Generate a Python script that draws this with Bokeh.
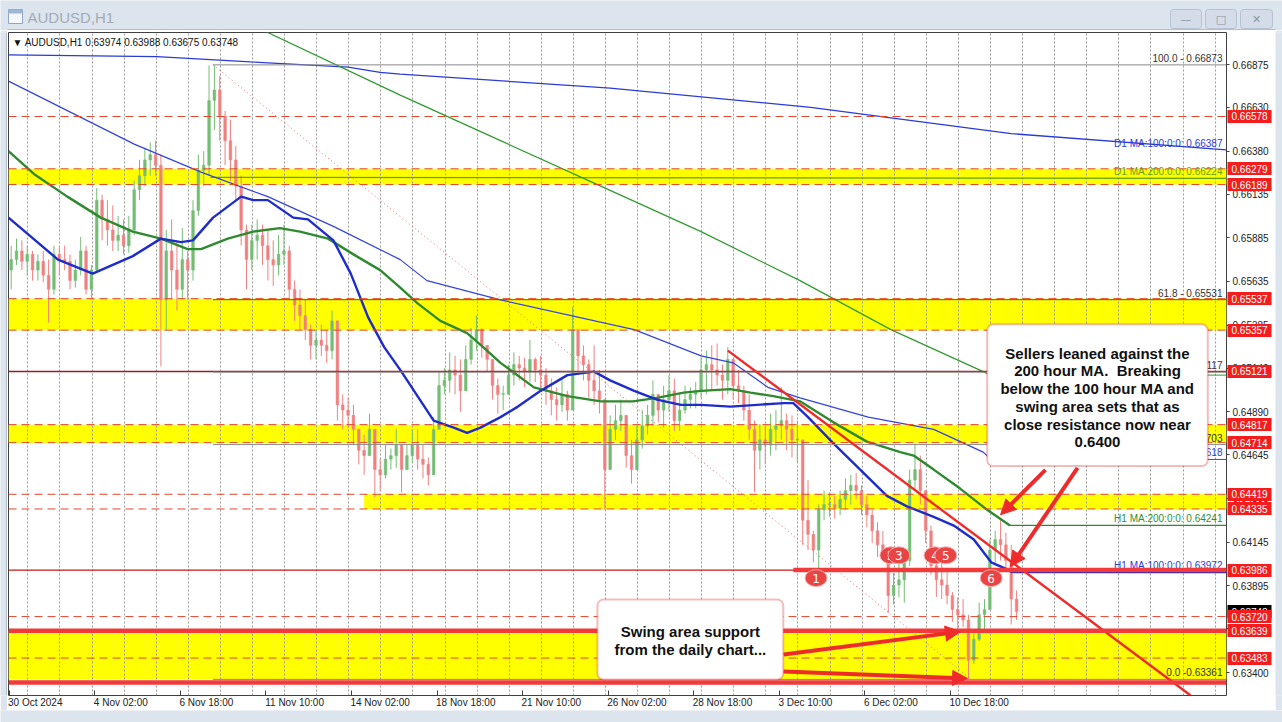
from bokeh.plotting import figure
from bokeh.layouts import column, row
from bokeh.models import (Range1d, FixedTicker, PrintfTickFormatter, Label, LinearAxis,
                          BoxAnnotation, Arrow, NormalHead, ColumnDataSource)
from bokeh.core.properties import value
from bokeh.embed import file_html
from bokeh.resources import INLINE

# ---------------- data ----------------
symbol = "AUDUSD,H1"
ohlc_header = [0.63974, 0.63988, 0.63675, 0.63748]

hours_per_candle = 4          # each drawn candle aggregates 4 hourly bars
first_open = 0.6570
candle_high = [
    0.6584, 0.6588, 0.6587, 0.6584, 0.6581, 0.6579, 0.6581, 0.6576, 0.6584, 0.6583,
    0.6584, 0.6579, 0.6576, 0.6589, 0.6584, 0.6573, 0.6617, 0.6613, 0.6610, 0.6607,
    0.6601, 0.6599, 0.6601, 0.6621, 0.6633, 0.6640, 0.6643, 0.6644, 0.6636, 0.6593,
    0.6599, 0.6587, 0.6594, 0.6581, 0.6610, 0.6636, 0.6638, 0.6687, 0.6687, 0.6681,
    0.6661, 0.6656, 0.6641, 0.6624, 0.6596, 0.6596, 0.6599, 0.6596, 0.6593, 0.6587,
    0.6590, 0.6596, 0.6584, 0.6564, 0.6559, 0.6553, 0.6539, 0.6536, 0.6539, 0.6536,
    0.6547, 0.6541, 0.6499, 0.6497, 0.6493, 0.6479, 0.6476, 0.6488, 0.6479, 0.6462,
    0.6470, 0.6468, 0.6479, 0.6467, 0.6470, 0.6479, 0.6479, 0.6470, 0.6463, 0.6486,
    0.6512, 0.6514, 0.6523, 0.6521, 0.6519, 0.6527, 0.6537, 0.6544, 0.6537, 0.6527,
    0.6516, 0.6508, 0.6504, 0.6516, 0.6523, 0.6521, 0.6520, 0.6530, 0.6520, 0.6521,
    0.6514, 0.6508, 0.6503, 0.6508, 0.6501, 0.6549, 0.6536, 0.6527, 0.6519, 0.6527,
    0.6513, 0.6496, 0.6487, 0.6493, 0.6496, 0.6486, 0.6473, 0.6481, 0.6490, 0.6493,
    0.6507, 0.6499, 0.6504, 0.6510, 0.6508, 0.6500, 0.6504, 0.6503, 0.6506, 0.6520,
    0.6524, 0.6527, 0.6528, 0.6516, 0.6526, 0.6516, 0.6513, 0.6504, 0.6499, 0.6484,
    0.6482, 0.6481, 0.6488, 0.6490, 0.6503, 0.6488, 0.6487, 0.6484, 0.6473, 0.6450,
    0.6421, 0.6436, 0.6444, 0.6443, 0.6441, 0.6444, 0.6451, 0.6453, 0.6454, 0.6447,
    0.6441, 0.6433, 0.6426, 0.6421, 0.6410, 0.6397, 0.6403, 0.6407, 0.6456, 0.6471,
    0.6464, 0.6441, 0.6424, 0.6408, 0.6404, 0.6399, 0.6386, 0.6383, 0.6382, 0.6373,
    0.6364, 0.6380, 0.6382, 0.6416, 0.6421, 0.6427, 0.6420, 0.6413, 0.6387,
]
candle_low = [
    0.6559, 0.6573, 0.6570, 0.6567, 0.6564, 0.6564, 0.6563, 0.6540, 0.6556, 0.6567,
    0.6570, 0.6559, 0.6560, 0.6567, 0.6556, 0.6554, 0.6569, 0.6587, 0.6584, 0.6581,
    0.6581, 0.6579, 0.6580, 0.6590, 0.6610, 0.6618, 0.6624, 0.6624, 0.6515, 0.6536,
    0.6553, 0.6547, 0.6553, 0.6553, 0.6564, 0.6601, 0.6618, 0.6624, 0.6650, 0.6644,
    0.6630, 0.6621, 0.6610, 0.6584, 0.6559, 0.6570, 0.6576, 0.6573, 0.6564, 0.6561,
    0.6567, 0.6573, 0.6553, 0.6541, 0.6536, 0.6530, 0.6519, 0.6519, 0.6521, 0.6517,
    0.6519, 0.6484, 0.6479, 0.6480, 0.6470, 0.6459, 0.6453, 0.6464, 0.6440, 0.6444,
    0.6451, 0.6456, 0.6457, 0.6443, 0.6456, 0.6460, 0.6456, 0.6451, 0.6447, 0.6456,
    0.6483, 0.6499, 0.6500, 0.6499, 0.6489, 0.6501, 0.6516, 0.6524, 0.6520, 0.6512,
    0.6496, 0.6488, 0.6490, 0.6499, 0.6504, 0.6507, 0.6503, 0.6506, 0.6506, 0.6501,
    0.6493, 0.6487, 0.6484, 0.6489, 0.6484, 0.6501, 0.6510, 0.6507, 0.6497, 0.6493,
    0.6488, 0.6433, 0.6467, 0.6473, 0.6478, 0.6457, 0.6448, 0.6457, 0.6468, 0.6476,
    0.6481, 0.6483, 0.6480, 0.6489, 0.6478, 0.6478, 0.6488, 0.6491, 0.6491, 0.6497,
    0.6499, 0.6501, 0.6504, 0.6496, 0.6499, 0.6496, 0.6494, 0.6484, 0.6473, 0.6443,
    0.6456, 0.6459, 0.6464, 0.6467, 0.6473, 0.6467, 0.6463, 0.6460, 0.6413, 0.6410,
    0.6403, 0.6399, 0.6427, 0.6429, 0.6428, 0.6430, 0.6433, 0.6436, 0.6439, 0.6430,
    0.6423, 0.6414, 0.6406, 0.6404, 0.6374, 0.6379, 0.6383, 0.6380, 0.6401, 0.6444,
    0.6436, 0.6414, 0.6396, 0.6383, 0.6382, 0.6379, 0.6369, 0.6365, 0.6366, 0.6336,
    0.6345, 0.6358, 0.6365, 0.6379, 0.6401, 0.6404, 0.6399, 0.63675, 0.6370,
]
candle_close = [
    0.6576, 0.6581, 0.6575, 0.6579, 0.6570, 0.6575, 0.6567, 0.6559, 0.6579, 0.6576,
    0.6575, 0.6564, 0.6570, 0.6581, 0.6559, 0.6570, 0.6610, 0.6599, 0.6593, 0.6587,
    0.6590, 0.6584, 0.6593, 0.6616, 0.6624, 0.6633, 0.6636, 0.6630, 0.6553, 0.6581,
    0.6570, 0.6559, 0.6576, 0.6570, 0.6604, 0.6627, 0.6630, 0.6667, 0.6673, 0.6658,
    0.6644, 0.6633, 0.6618, 0.6593, 0.6576, 0.6587, 0.6590, 0.6584, 0.6576, 0.6573,
    0.6579, 0.6581, 0.6559, 0.6550, 0.6544, 0.6536, 0.6527, 0.6530, 0.6527, 0.6524,
    0.6541, 0.6493, 0.6490, 0.6487, 0.6479, 0.6467, 0.6464, 0.6479, 0.6456, 0.6453,
    0.6462, 0.6464, 0.6470, 0.6456, 0.6464, 0.6470, 0.6462, 0.6459, 0.6453, 0.6479,
    0.6504, 0.6507, 0.6513, 0.6510, 0.6501, 0.6519, 0.6530, 0.6536, 0.6527, 0.6519,
    0.6504, 0.6499, 0.6499, 0.6510, 0.6516, 0.6514, 0.6512, 0.6519, 0.6513, 0.6510,
    0.6501, 0.6496, 0.6493, 0.6499, 0.6490, 0.6536, 0.6521, 0.6516, 0.6507, 0.6501,
    0.6496, 0.6456, 0.6479, 0.6484, 0.6487, 0.6464, 0.6456, 0.6473, 0.6481, 0.6487,
    0.6499, 0.6490, 0.6496, 0.6501, 0.6484, 0.6490, 0.6496, 0.6499, 0.6501, 0.6513,
    0.6516, 0.6513, 0.6510, 0.6507, 0.6519, 0.6504, 0.6501, 0.6490, 0.6479, 0.6467,
    0.6473, 0.6470, 0.6479, 0.6481, 0.6484, 0.6479, 0.6473, 0.6473, 0.6427, 0.6419,
    0.6410, 0.6433, 0.6436, 0.6436, 0.6434, 0.6439, 0.6444, 0.6447, 0.6444, 0.6436,
    0.6430, 0.6421, 0.6413, 0.6407, 0.6384, 0.6390, 0.6393, 0.6404, 0.6450, 0.6456,
    0.6444, 0.6421, 0.6401, 0.6393, 0.6390, 0.6384, 0.6376, 0.6373, 0.6370, 0.6347,
    0.6359, 0.6373, 0.6376, 0.6410, 0.6416, 0.6413, 0.6404, 0.6382, 0.63748,
]

# time axis (hourly bar index)
time_labels = ["30 Oct 2024", "4 Nov 02:00", "6 Nov 18:00", "11 Nov 10:00", "14 Nov 02:00",
               "18 Nov 18:00", "21 Nov 10:00", "26 Nov 02:00", "28 Nov 18:00", "3 Dec 10:00",
               "6 Dec 02:00", "10 Dec 18:00"]
bars_per_label = 64
first_midnight_bar = 14
bars_per_day = 24
visible_bars = 911

price_ticks = [0.63400, 0.63650, 0.63895, 0.64145, 0.64395, 0.64645, 0.64890, 0.65140,
               0.65385, 0.65635, 0.65885, 0.66135, 0.66380, 0.66630, 0.66875]

# moving averages (bar index, price)
h1_ma100_bar = [0, 37, 63, 93, 114, 129, 138, 153, 174, 183, 194, 213, 224, 243, 256, 269,
                281, 293, 318, 333, 343, 353, 368, 381, 398, 418, 438, 450, 468, 485, 503,
                518, 540, 560, 580, 587, 598, 617, 637, 657, 672, 692, 707, 722, 735, 747, 751]
h1_ma100_price = [0.6600, 0.6576, 0.6568, 0.6578, 0.6588, 0.6586, 0.6587, 0.6600, 0.6612,
                  0.6610, 0.6610, 0.6600, 0.6599, 0.6587, 0.6568, 0.6543, 0.6526, 0.6513,
                  0.6484, 0.6480, 0.6477, 0.6480, 0.6486, 0.6492, 0.6501, 0.6510, 0.6512,
                  0.6507, 0.6501, 0.6496, 0.6493, 0.6493, 0.6492, 0.6493, 0.6494, 0.6494,
                  0.6486, 0.6471, 0.6456, 0.6441, 0.6435, 0.6429, 0.6424, 0.6416, 0.6403,
                  0.6399, 0.63972]
h1_ma200_bar = [0, 19, 44, 69, 93, 114, 134, 144, 164, 183, 203, 218, 239, 258, 278, 293,
                306, 323, 343, 355, 368, 393, 418, 443, 467, 485, 505, 518, 540, 555, 572,
                592, 617, 642, 667, 677, 692, 712, 732, 749]
h1_ma200_price = [0.6638, 0.6625, 0.6612, 0.6600, 0.6592, 0.6588, 0.6582, 0.6582, 0.6588,
                  0.6592, 0.6594, 0.6592, 0.6588, 0.6579, 0.6570, 0.6560, 0.6551, 0.6541,
                  0.6534, 0.6526, 0.6517, 0.6503, 0.6498, 0.6495, 0.6495, 0.6497, 0.6500,
                  0.6501, 0.6502, 0.6500, 0.6498, 0.6495, 0.6483, 0.6472, 0.6466, 0.6464,
                  0.6456, 0.6445, 0.6433, 0.64241]
h4_ma_blue_bar = [0, 94, 144, 194, 243, 293, 313, 368, 468, 518, 542, 568, 592, 643, 692, 729, 735]
h4_ma_blue_price = [0.6678, 0.6642, 0.6626, 0.6612, 0.6595, 0.6576, 0.6564, 0.6553, 0.6536,
                    0.6521, 0.6517, 0.6503, 0.6497, 0.6486, 0.6479, 0.6466, 0.64618]
h4_ma_green_bar = [174, 293, 368, 443, 518, 592, 660, 729, 735]
h4_ma_green_price = [0.6713, 0.6670, 0.6644, 0.6618, 0.6592, 0.6564, 0.6536, 0.6512, 0.6510]
d1_ma100_bar = [0, 111, 181, 254, 278, 293, 450, 600, 750, 911]
d1_ma100_price = [0.6693, 0.6692, 0.6689, 0.6686, 0.6683, 0.6682, 0.6674, 0.6663, 0.6648, 0.66387]
d1_ma200_bar = [151, 911]
d1_ma200_price = [0.6623, 0.66224]

ma_tag_text = ["D1 MA:100:0:0: 0.66387", "D1 MA:200:0:0: 0.66224",
               "H1 MA:200:0:0: 0.64241", "H1 MA:100:0:0: 0.63972", "H4 MA:100:0:0: 0.64618"]
ma_tag_price = [0.66387, 0.66224, 0.64241, 0.63972, 0.64618]
ma_tag_color = ["#2b3bd6", "#6aa010", "#2f8f2f", "#2b3bd6", "#2b3bd6"]

# support / resistance zones and levels
zone_top = [0.66279, 0.65537, 0.64817, 0.64419, 0.63639]
zone_bottom = [0.66189, 0.65357, 0.64714, 0.64335, 0.63361]
zone_start_bar = [0, 0, 0, 266, 0]
dashed_levels = [0.66578, 0.66279, 0.66189, 0.65537, 0.65357, 0.64817, 0.64714,
                 0.64419, 0.64335, 0.63720, 0.63483]
swing_level = 0.65121
resistance_level = 0.63986
resistance_start_bar = 587
support_levels = [0.63639, 0.63343]

fib_text = ["100.0 - 0.66873", "61.8 - 0.65531", "50.0 - 0.65117", "38.2 - 0.64703",
            "0.0 -0.63361"]
fib_price = [0.66873, 0.65531, 0.65117, 0.64703, 0.63361]
fib_high_bar = 153
fib_low_bar = 720

trend_bar = [538, 884]
trend_price = [0.6524, 0.6327]

marker_text = ["1", "2", "3", "4", "5", "6"]
marker_bar = [604, 660, 666, 693, 701, 735]
marker_price = [0.6394, 0.6407, 0.6407, 0.6407, 0.6407, 0.6394]

red_tags = [0.66578, 0.66279, 0.66189, 0.65537, 0.65357, 0.65121, 0.64817, 0.64714,
            0.64419, 0.64335, 0.63986, 0.63720, 0.63639, 0.63483]
last_price = 0.63748

note_top = ["Sellers leaned against the", "200 hour MA.\u00a0 Breaking",
            "below the 100 hour MA and", "swing area sets that as",
            "close resistance now near", "0.6400"]
note_bottom = ["Swing area support", "from the daily chart..."]

# ---------------- styling / layout ----------------
FONT = "Liberation Sans"
RED = "#ee2b2b"
CHROME = "#dce4ee"
Y_TOP = 0.67058
Y_BOT = 0.63269


def chrome_fig(w, h):
    f = figure(width=w, height=h, x_range=Range1d(0, w), y_range=Range1d(0, h),
               toolbar_location=None, output_backend="svg", min_border=0)
    f.axis.visible = False
    f.grid.visible = False
    f.outline_line_color = None
    f.background_fill_color = CHROME
    f.border_fill_color = CHROME
    return f


# title bar (window chrome)
tb = chrome_fig(1282, 30)
tb.quad(left=[8], right=[22], top=[21], bottom=[7], fill_color="#f4f8fc", line_color="#8fa6c4")
tb.quad(left=[8], right=[22], top=[21], bottom=[17], fill_color="#9fb6d6", line_color=None)
tb.text(x=[27], y=[13], text=[symbol], text_font=value(FONT), text_font_size="15px",
        text_color="#a3abb6", text_baseline="middle")
tb.quad(left=[1170, 1205, 1240], right=[1201, 1236, 1272], top=[21, 21, 21], bottom=[2, 2, 2],
        fill_color="#d3dce8", line_color="#b4c2d3", border_radius=3)
tb.text(x=[1185.5, 1220.5, 1256], y=[11, 11, 11], text=["\u2014", "\u25a1", "\u2715"],
        text_font=value("DejaVu Sans"), text_font_size="11px", text_color="#8a96a6",
        text_align="center", text_baseline="middle")
tb.segment(x0=[7], x1=[1275], y0=[0.5], y1=[0.5], line_color="#8c96a3", line_width=1)

left_strip = chrome_fig(7, 680)
left_strip.segment(x0=[6.5], x1=[6.5], y0=[0], y1=[680], line_color="#8c96a3", line_width=1)
right_strip = chrome_fig(7, 680)
bottom_strip = chrome_fig(1282, 12)

p = figure(width=1268, height=680, x_range=Range1d(0, visible_bars),
           y_range=Range1d(Y_BOT, Y_TOP), y_axis_location="right",
           toolbar_location=None, output_backend="svg",
           min_border_left=1, min_border_top=2, min_border_right=49, min_border_bottom=14)
p.background_fill_color = "white"
p.border_fill_color = "white"
p.outline_line_color = "#404040"

# time axis
lab_pos = [bars_per_label * i + 0.5 for i in range(len(time_labels))]
lab_ctr = [round(bars_per_label * i + 0.5 + len(t) * 1.85 - 1) for i, t in enumerate(time_labels)]
p.xaxis.ticker = FixedTicker(ticks=lab_ctr, minor_ticks=lab_pos)
p.xaxis.major_label_overrides = {c: t for c, t in zip(lab_ctr, time_labels)}
p.xaxis.major_tick_out = 0
p.xaxis.major_tick_in = 0
p.xaxis.minor_tick_out = 0
p.xaxis.minor_tick_in = 5
p.xaxis.minor_tick_line_color = "#404040"
p.xaxis.axis_line_color = None
p.xaxis.major_label_standoff = 1
p.xaxis.major_label_text_font = FONT
p.xaxis.major_label_text_font_size = "10px"
p.xaxis.major_label_text_color = "#222222"

# price axis
yax = p.yaxis[0]
yax.ticker = FixedTicker(ticks=price_ticks)
yax.formatter = PrintfTickFormatter(format="%.5f")
yax.axis_line_color = None
yax.major_tick_out = 3
yax.major_tick_in = 0
yax.minor_tick_out = 0
yax.major_tick_line_color = "#404040"
yax.major_label_standoff = 3
yax.major_label_text_font = FONT
yax.major_label_text_font_size = "10px"
yax.major_label_text_color = "#222222"


def tag_axis(ticks, color):
    # price tags: a thick tick mark reaching back over the price scale, white label on it
    ax = LinearAxis(ticker=FixedTicker(ticks=ticks), formatter=PrintfTickFormatter(format="%.5f"))
    ax.axis_line_color = None
    ax.minor_tick_in = 0
    ax.minor_tick_out = 0
    ax.major_tick_out = 0
    ax.major_tick_in = 44
    ax.major_tick_line_color = color
    ax.major_tick_line_width = 13
    ax.major_label_standoff = -40
    ax.major_label_text_color = "white"
    ax.major_label_text_font = FONT
    ax.major_label_text_font_size = "10px"
    p.add_layout(ax, "right")


tag_axis([last_price], "#000000")
tag_axis(red_tags, "#f41c1c")

p.ygrid.grid_line_color = None
p.xgrid.ticker = FixedTicker(ticks=[first_midnight_bar + 0.5 + bars_per_day * i
                                    for i in range(38)])
p.xgrid.grid_line_color = "#9a9a9a"
p.xgrid.grid_line_dash = "2 2"
p.xgrid.grid_line_width = 1

# zones (below the dotted grid)
p.quad(left=zone_start_bar, right=visible_bars, top=zone_top, bottom=zone_bottom,
       fill_color="#ffff00", line_color=None, level="image")

# candles
n = len(candle_close)
opens = [first_open] + candle_close[:-1]
cx = [hours_per_candle * k + hours_per_candle / 2 for k in range(n)]
up = [c >= o for o, c in zip(opens, candle_close)]
colors = ["#74bd74" if u else "#f08080" for u in up]
hi = [max(h, o, c) for h, o, c in zip(candle_high, opens, candle_close)]
lo = [min(l, o, c) for l, o, c in zip(candle_low, opens, candle_close)]
btop = [max(o, c) for o, c in zip(opens, candle_close)]
bbot = [min(o, c) for o, c in zip(opens, candle_close)]
btop = [max(t, b + 0.00004) for t, b in zip(btop, bbot)]
src = ColumnDataSource(dict(x=cx, hi=hi, lo=lo, top=btop, bottom=bbot, color=colors))
p.segment(x0="x", y0="lo", x1="x", y1="hi", line_color="color", line_width=1, source=src)
p.vbar(x="x", width=2.0, top="top", bottom="bottom", fill_color="color",
       line_color="color", line_width=0.5, source=src)

# moving averages
p.line(d1_ma100_bar, d1_ma100_price, line_color="#2b3bd6", line_width=1.3)
p.line(d1_ma200_bar, d1_ma200_price, line_color="#5fa21a", line_width=1.3)
p.line(h4_ma_blue_bar, h4_ma_blue_price, line_color="#3344dd", line_width=1.2)
p.line(h4_ma_green_bar, h4_ma_green_price, line_color="#2f9a2f", line_width=1.2)
p.line(h1_ma200_bar, h1_ma200_price, line_color="#2f8a2f", line_width=2.4)
p.line(h1_ma100_bar, h1_ma100_price, line_color="#1e2ccc", line_width=2.4)
p.segment(x0=[h1_ma200_bar[-1], h1_ma100_bar[-1]], y0=[h1_ma200_price[-1], h1_ma100_price[-1]],
          x1=visible_bars, y1=[h1_ma200_price[-1], h1_ma100_price[-1]],
          line_color=["#2f8a2f", "#1e2ccc"], line_width=1.3)
p.segment(x0=[h4_ma_blue_bar[-1], h4_ma_green_bar[-1]],
          y0=[h4_ma_blue_price[-1], h4_ma_green_price[-1]], x1=visible_bars,
          y1=[h4_ma_blue_price[-1], h4_ma_green_price[-1]],
          line_color=["#3344dd", "#2f9a2f"], line_width=1)

# levels
p.segment(x0=0, x1=visible_bars, y0=dashed_levels, y1=dashed_levels, line_color="#e2452e",
          line_width=1, line_dash="8 5")
p.segment(x0=0, x1=visible_bars, y0=[swing_level], y1=[swing_level], line_color="#9b1c1c",
          line_width=1.5)
p.segment(x0=0, x1=visible_bars, y0=[resistance_level], y1=[resistance_level],
          line_color="#c41a1a", line_width=1.2)

# fibonacci
p.segment(x0=fib_high_bar, x1=visible_bars, y0=fib_price, y1=fib_price,
          line_color=["#8a8a8a", "#7a4a3a", "#8a8a8a", "#8a8a8a", "#8a8a8a"], line_width=1)
p.line([fib_high_bar, fib_low_bar], [fib_price[0], fib_price[-1]], line_color="#ef6b6b",
       line_width=1, line_dash="1 3")
p.text(x=visible_bars - 3, y=fib_price, text=fib_text,
       text_font=value(FONT), text_font_size="10px", text_color="#333333",
       text_align="right", text_baseline="bottom", y_offset=-1)
p.text(x=visible_bars - 3, y=ma_tag_price, text=ma_tag_text, text_color=ma_tag_color,
       text_font=value(FONT), text_font_size="10px", text_align="right",
       text_baseline="bottom", y_offset=-1)

# trend line and thick lines
p.line(trend_bar, trend_price, line_color=RED, line_width=2.4)
p.segment(x0=resistance_start_bar, x1=visible_bars, y0=[resistance_level],
          y1=[resistance_level], line_color="#f23a3a", line_width=4.5)
p.segment(x0=0, x1=visible_bars, y0=support_levels, y1=support_levels,
          line_color="#f23a3a", line_width=4.5)

# numbered swing markers
for t, b, v in zip(marker_text, marker_bar, marker_price):
    p.ellipse(x=[b], y=[v], width=22, height=17, width_units="screen", height_units="screen",
              fill_color="#e94444", line_color="#f7b0b0", line_width=1)
    p.text(x=[b], y=[v], text=[t], text_font=value("DejaVu Sans"), text_font_size="12px",
           text_color="white", text_align="center", text_baseline="middle")

# header text
p.add_layout(Label(x=3, y=0.67003, text="\u25bc  " + symbol + "  " +
                   " ".join("%.5f" % v for v in ohlc_header),
                   text_font=FONT, text_font_size="10px", text_color="#111111",
                   text_baseline="middle"))

# note boxes
p.add_layout(BoxAnnotation(left=732, right=897, top=0.6539, bottom=0.6458,
                           fill_color="white", fill_alpha=1, line_color="#d91f1f",
                           line_width=2, border_radius=6))
for i, t in enumerate(note_top):
    p.add_layout(Label(x=814.5, y=0.65226 - i * 0.001016, text=t, text_font=FONT,
                       text_font_size="15px", text_font_style="bold", text_color="#111111",
                       text_align="center", text_baseline="middle"))
p.add_layout(BoxAnnotation(left=440.5, right=579.5, top=0.63817, bottom=0.6336,
                           fill_color="white", fill_alpha=1, line_color="#d91f1f",
                           line_width=2, border_radius=6))
for i, t in enumerate(note_bottom):
    p.add_layout(Label(x=510, y=0.63634 - i * 0.001027, text=t, text_font=FONT,
                       text_font_size="15px", text_font_style="bold", text_color="#111111",
                       text_align="center", text_baseline="middle"))

# arrows
arrows = [((775.6, 0.64558), (742.0, 0.64302)),
          ((799.6, 0.64570), (749.4, 0.64005)),
          ((579.7, 0.63503), (712.0, 0.63634)),
          ((579.7, 0.63406), (717.3, 0.63366))]
for (xs, ys), (xe, ye) in arrows:
    p.add_layout(Arrow(end=NormalHead(size=15, fill_color=RED, line_color=RED),
                       x_start=xs, y_start=ys, x_end=xe, y_end=ye,
                       line_color=RED, line_width=4))

layout = column(tb, row(left_strip, p, right_strip, spacing=0), bottom_strip, spacing=0)
open("out.html", "w").write(file_html(layout, INLINE))
